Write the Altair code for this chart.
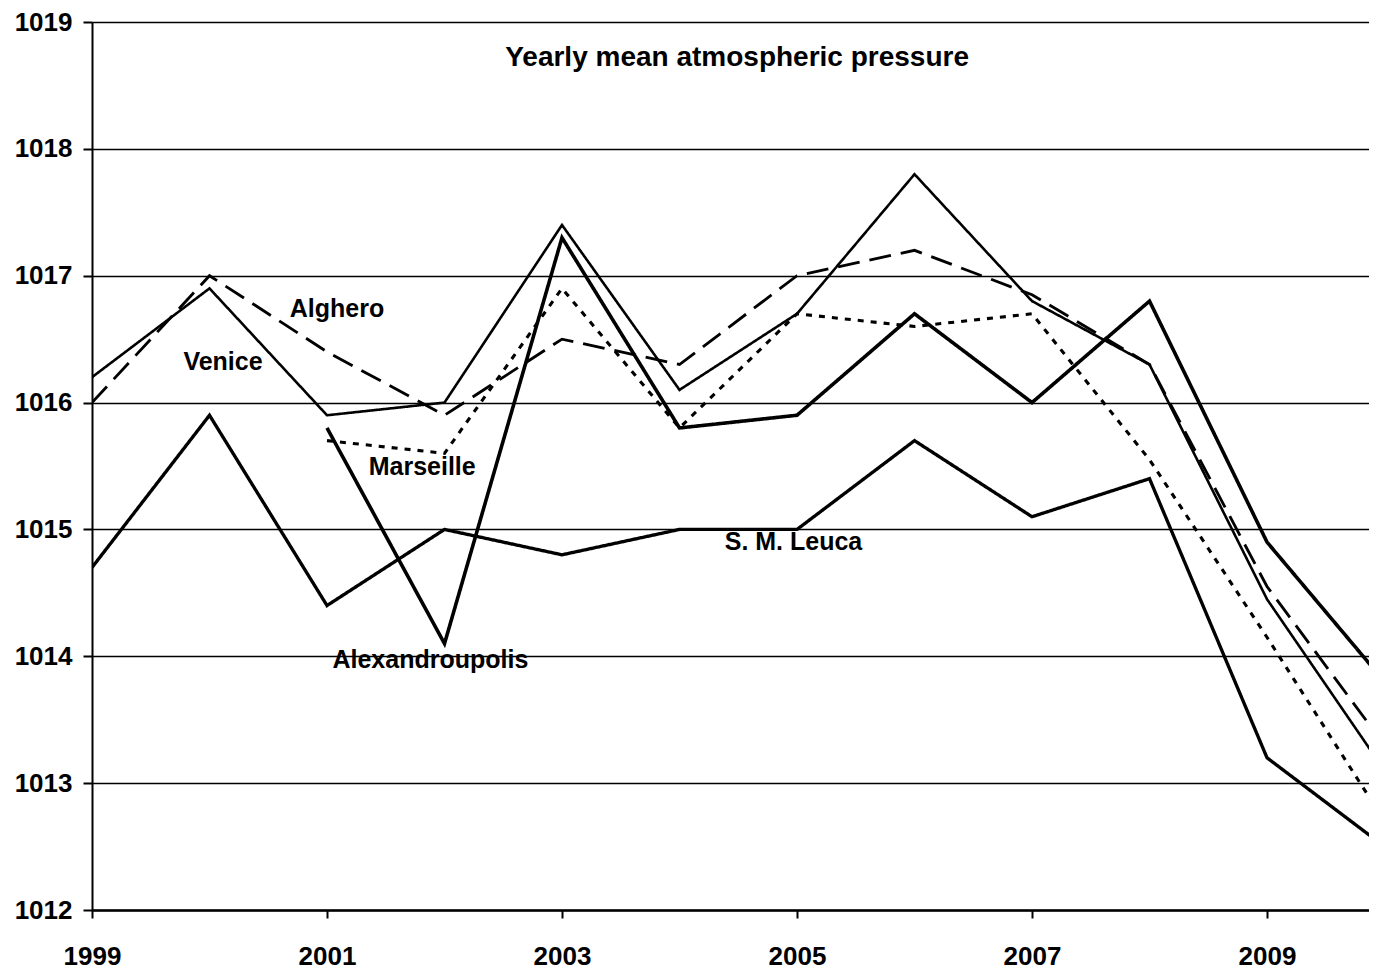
import altair as alt
import pandas as pd

years = list(range(1999, 2011))
venice = [1016.2, 1016.9, 1015.9, 1016.0, 1017.4, 1016.1, 1016.7, 1017.8, 1016.8, 1016.3, 1014.45, 1013.1]
alghero = [1016.0, 1017.0, 1016.4, 1015.9, 1016.5, 1016.3, 1017.0, 1017.2, 1016.85, 1016.3, 1014.55, 1013.3]
marseille = [None, None, 1015.7, 1015.6, 1016.9, 1015.8, 1016.7, 1016.6, 1016.7, 1015.55, 1014.15, 1012.7]
leuca = [1014.7, 1015.9, 1014.4, 1015.0, 1014.8, 1015.0, 1015.0, 1015.7, 1015.1, 1015.4, 1013.2, 1012.5]
alex = [None, None, 1015.8, 1014.1, 1017.3, 1015.8, 1015.9, 1016.7, 1016.0, 1016.8, 1014.9, 1013.8]

stations = ["Venice", "Alghero", "Marseille", "S. M. Leuca", "Alexandroupolis"]
series = [venice, alghero, marseille, leuca, alex]

x_ticks = [1999, 2001, 2003, 2005, 2007, 2009]
y_ticks = [1012, 1013, 1014, 1015, 1016, 1017, 1018, 1019]

label_names = ["Alghero", "Venice", "Marseille", "S. M. Leuca", "Alexandroupolis"]
label_x = [2001.085, 2000.115, 2001.81, 2004.97, 2001.88]
label_y = [1016.74, 1016.32, 1015.49, 1014.90, 1013.97]

title_text = ["Yearly mean atmospheric pressure"]
title_x = [2004.49]
title_y = [1018.72]

rows = []
for name, vals in zip(stations, series):
    for yr, v in zip(years, vals):
        if v is not None:
            rows.append({"station": name, "year": yr, "pressure": v})
df = pd.DataFrame(rows)

labels_df = pd.DataFrame({"text": label_names, "x": label_x, "y": label_y})
title_df = pd.DataFrame({"text": title_text, "x": title_x, "y": title_y})

FONT = "Liberation Sans"
x_scale = alt.Scale(domain=[1999, 2009.868], nice=False, zero=False)
y_scale = alt.Scale(domain=[1012, 1019], nice=False, zero=False)

x_axis = alt.Axis(values=x_ticks, format="d", title=None, grid=False,
                  labelFont=FONT, labelFontSize=26, labelFontWeight="bold",
                  labelColor="black", tickColor="black", tickSize=8, tickWidth=2,
                  domainColor="black", domainWidth=2.5, labelPadding=25,
                  labelFlush=False)
y_axis = alt.Axis(values=y_ticks, format="d", title=None, grid=True,
                  gridColor="black", gridWidth=1.5, gridOpacity=1,
                  labelFont=FONT, labelFontSize=26, labelFontWeight="bold",
                  labelColor="black", tickColor="black", tickSize=9, tickWidth=2,
                  domainColor="black", domainWidth=2, labelPadding=11,
                  labelFlush=False)

lines = alt.Chart(df).mark_line(clip=True, color="black").encode(
    x=alt.X("year:Q", scale=x_scale, axis=x_axis),
    y=alt.Y("pressure:Q", scale=y_scale, axis=y_axis),
    strokeDash=alt.StrokeDash("station:N", scale=alt.Scale(
        domain=stations, range=[[1, 0], [22, 10], [6, 7], [1, 0], [1, 0]]), legend=None),
    strokeWidth=alt.StrokeWidth("station:N", scale=alt.Scale(
        domain=stations, range=[2.6, 3.6, 3.6, 2.6, 2.6]), legend=None),
    detail="station:N",
)

labels = alt.Chart(labels_df).mark_text(
    font=FONT, fontSize=25, fontWeight="bold", color="black",
    align="center", baseline="middle"
).encode(
    x=alt.X("x:Q", scale=x_scale),
    y=alt.Y("y:Q", scale=y_scale),
    text="text:N",
)

title = alt.Chart(title_df).mark_text(
    font=FONT, fontSize=28, fontWeight="bold", color="black",
    align="center", baseline="middle"
).encode(
    x=alt.X("x:Q", scale=x_scale),
    y=alt.Y("y:Q", scale=y_scale),
    text="text:N",
)

chart = alt.layer(lines, labels, title).properties(
    width=1277, height=888,
    autosize=alt.AutoSizeParams(type="none"),
    padding={"left": 84, "top": 14, "right": 0, "bottom": 57},
    background="white",
).configure_view(stroke=None)

chart.save("out.html", embed_options={"renderer": "svg", "actions": False})
